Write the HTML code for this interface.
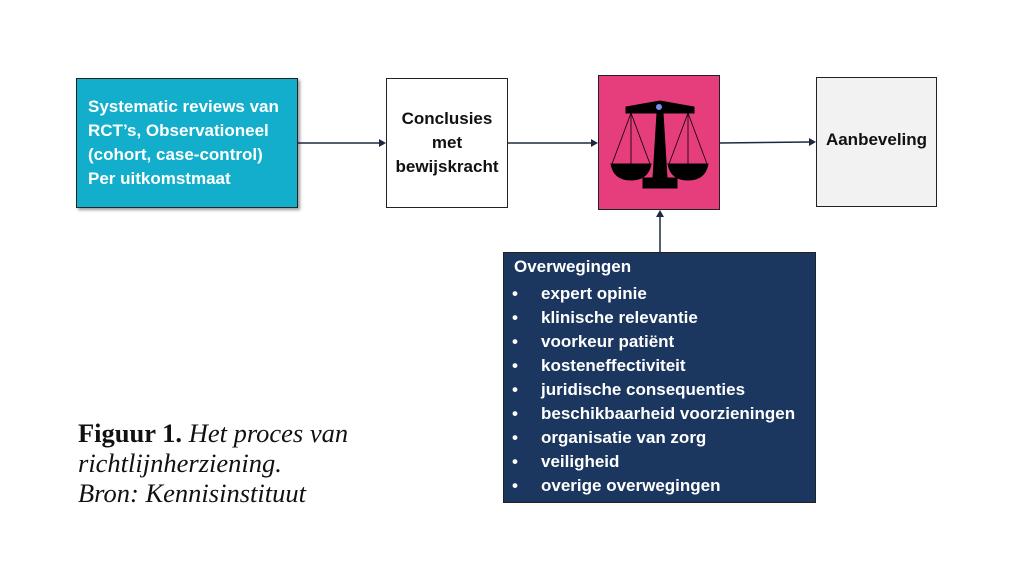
<!DOCTYPE html>
<html><head><meta charset="utf-8"><style>
body{margin:0;width:1024px;height:585px;background:#fff;position:relative;overflow:hidden;font-family:"Liberation Sans",sans-serif;}
.b{position:absolute;box-sizing:border-box;border:1.5px solid #222;}
.t{position:absolute;font-weight:bold;font-size:17px;line-height:24px;white-space:nowrap;}
.t span{position:absolute;left:29px;white-space:nowrap;}
</style></head><body>
<div class="b" style="left:76px;top:78px;width:222px;height:130px;background:#12aecb;box-shadow:2px 2px 3px #999;"></div>
<div class="t" style="left:88px;top:95px;color:#fff;">Systematic reviews van<br>RCT’s, Observationeel<br>(cohort, case-control)<br>Per uitkomstmaat</div>
<div class="b" style="left:386px;top:78px;width:122px;height:130px;background:#fff;"></div>
<div class="t" style="left:386px;top:107px;width:122px;text-align:center;color:#111;">Conclusies<br>met<br>bewijskracht</div>
<div class="b" style="left:598px;top:75px;width:122px;height:135px;background:#e63e7c;"></div>
<div class="b" style="left:816px;top:77px;width:121px;height:130px;background:#f2f2f2;"></div>
<div class="t" style="left:816px;top:128px;width:121px;text-align:center;color:#111;">Aanbeveling</div>
<div class="b" style="left:503px;top:252px;width:313px;height:251px;background:#1b365f;"></div>
<div class="t" style="left:514px;top:255px;color:#fff;">Overwegingen</div>
<div class="t" style="left:512px;top:282px;color:#fff;line-height:24px;">
<div>•<span>expert opinie</span></div>
<div>•<span>klinische relevantie</span></div>
<div>•<span>voorkeur patiënt</span></div>
<div>•<span>kosteneffectiviteit</span></div>
<div>•<span>juridische consequenties</span></div>
<div>•<span>beschikbaarheid voorzieningen</span></div>
<div>•<span>organisatie van zorg</span></div>
<div>•<span>veiligheid</span></div>
<div>•<span>overige overwegingen</span></div></div>
<svg style="position:absolute;left:0;top:0" width="1024" height="585">
<g stroke="#1b2a40" stroke-width="1.5" fill="#1b2a40">
<line x1="298" y1="143" x2="380" y2="143"/><polygon points="386,143 379,139 379,147" stroke="none"/>
<line x1="508" y1="143" x2="592" y2="143"/><polygon points="598,143 591,139 591,147" stroke="none"/>
<line x1="720" y1="143" x2="810" y2="142"/><polygon points="816,142 809,138 809,146" stroke="none"/>
<line x1="660" y1="252" x2="660" y2="216"/><polygon points="660,210 656,217 664,217" stroke="none"/>
</g>
<g fill="#000" stroke="#000">
<polygon points="626,107 660,101 694,107 694,113 626,113"/>
<polygon points="657,113 663,113 667,178 653,178"/>
<rect x="643" y="178" width="34" height="10"/>
<circle cx="659" cy="107" r="3" fill="#7b8cf0" stroke="none"/>
<g stroke-width="0.8" fill="none"><line x1="631" y1="113" x2="612" y2="164"/><line x1="631" y1="113" x2="631" y2="164"/><line x1="631" y1="113" x2="650" y2="164"/>
<line x1="688" y1="113" x2="669" y2="164"/><line x1="688" y1="113" x2="688" y2="164"/><line x1="688" y1="113" x2="707" y2="164"/></g>
<path d="M611,164 L651,164 Q648,180 631,180 Q614,180 611,164Z"/>
<path d="M668,164 L708,164 Q705,180 688,180 Q671,180 668,164Z"/>
</g>
</svg>
<div style="position:absolute;left:78px;top:418px;font-family:'Liberation Serif',serif;font-size:26.5px;line-height:30px;color:#111;white-space:nowrap;"><b>Figuur 1.</b> <i>Het proces van<br>richtlijnherziening.<br>Bron: Kennisinstituut</i></div>
</body></html>
